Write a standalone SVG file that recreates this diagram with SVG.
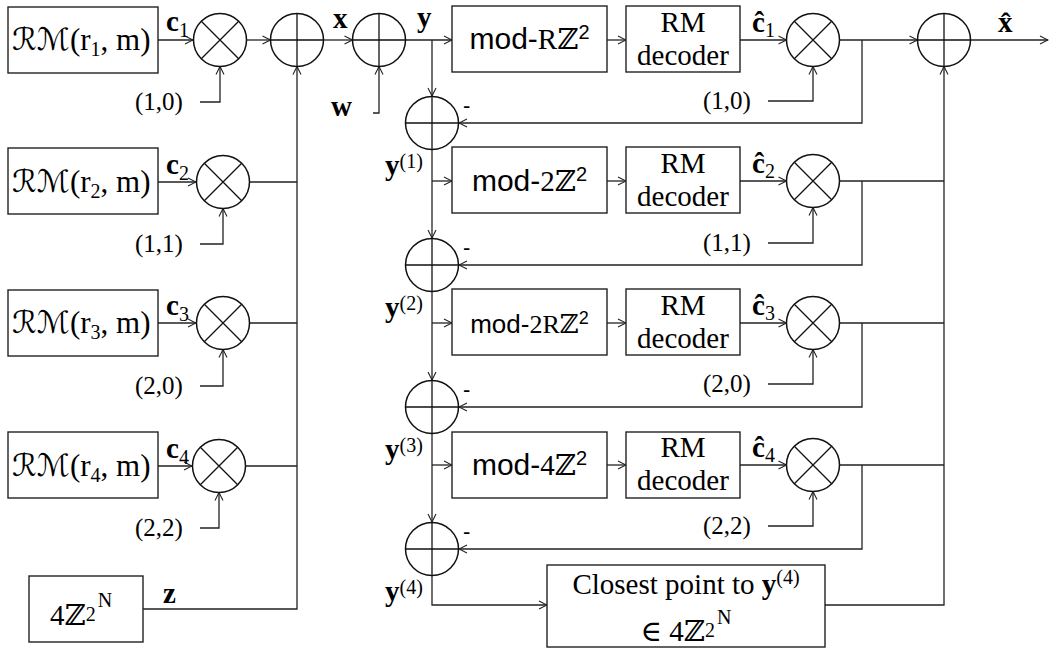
<svg xmlns="http://www.w3.org/2000/svg" width="1051" height="651" viewBox="0 0 1051 651">
<defs>
<marker id="a" markerWidth="10" markerHeight="10" refX="9" refY="5" orient="auto" markerUnits="userSpaceOnUse"><path d="M1,1 L9,5 L1,9" fill="none" stroke="#222" stroke-width="1.1"/></marker>
<g id="mul"><circle r="26.5" fill="#fff" stroke="#111" stroke-width="1.5"/><path d="M-18.7,-18.7 L18.7,18.7 M18.7,-18.7 L-18.7,18.7" stroke="#111" stroke-width="1.3"/></g>
<g id="add"><circle r="26.5" fill="none" stroke="#111" stroke-width="1.5"/><path d="M-26.5,0 H26.5 M0,-26.5 V26.5" stroke="#111" stroke-width="1.3"/></g>
</defs>
<style>
.box{fill:#fff;stroke:#222;stroke-width:1.4}
.c{fill:none;stroke:#222;stroke-width:1.3}
.ar{marker-end:url(#a)}
text{font-family:"Liberation Serif","DejaVu Serif",serif;fill:#000}
.sf{font-family:"Liberation Serif","DejaVu Serif",serif}
.t{font-size:29px}
.lab{font-size:25px}
.b{font-weight:bold}
.sub{font-size:20px}
.ss{font-family:"Liberation Sans","DejaVu Sans",sans-serif}
.scr{font-family:"DejaVu Sans",sans-serif;font-style:italic}
</style>

<g id="connectors">
<path class="c ar" d="M158,40 H193"/>
<path class="c ar" d="M158,182 H196"/>
<path class="c ar" d="M158,323 H196"/>
<path class="c ar" d="M158,466 H192"/>
<path class="c ar" d="M200,102 H220 V66.5"/>
<path class="c ar" d="M200,244 H223 V208.5"/>
<path class="c ar" d="M200,386 H223 V349.5"/>
<path class="c ar" d="M200,528 H219 V492.5"/>
<path class="c ar" d="M246.5,40 H270.5"/>
<path class="c" d="M249.5,182 H297 M249.5,323 H297 M245.5,466 H297"/>
<path class="c ar" d="M143,609 H297 V66.5"/>
<path class="c ar" d="M323.5,40 H352.5"/>
<path class="c ar" d="M373,113 H379 V66.5"/>
<path class="c ar" d="M405.5,40 H452"/>
<path class="c ar" d="M432,40 V96"/>
<path class="c ar" d="M432,150 V238"/>
<path class="c ar" d="M432,292 V380"/>
<path class="c ar" d="M432,434 V522"/>
<path class="c ar" d="M432,576 V605 H547"/>
<path class="c ar" d="M432,181 H452"/>
<path class="c ar" d="M432,323 H452"/>
<path class="c ar" d="M432,465 H452"/>
<path class="c ar" d="M607,40 H626"/>
<path class="c ar" d="M607,181 H626"/>
<path class="c ar" d="M607,323 H626"/>
<path class="c ar" d="M607,465 H626"/>
<path class="c ar" d="M740,40 H786.5"/>
<path class="c ar" d="M740,181 H786.5"/>
<path class="c ar" d="M740,323 H786.5"/>
<path class="c ar" d="M740,465 H786.5"/>
<path class="c ar" d="M768,101 H813 V66.5"/>
<path class="c ar" d="M768,243 H813 V207.5"/>
<path class="c ar" d="M768,384 H813 V349.5"/>
<path class="c ar" d="M768,526 H813 V491.5"/>
<path class="c ar" d="M839.5,40 H917.5"/>
<path class="c" d="M839.5,181 H944 M839.5,323 H944 M839.5,465 H944"/>
<path class="c ar" d="M862,40 V123 H459"/>
<path class="c ar" d="M862,181 V265 H459"/>
<path class="c ar" d="M862,323 V407 H459"/>
<path class="c ar" d="M862,465 V549 H459"/>
<path class="c ar" d="M825,605 H944 V66.5"/>
<path class="c ar" d="M970.5,40 H1048"/>
</g>

<g id="rm1"><rect class="box" x="8" y="7" width="150" height="66"/>
<text class="sf" font-size="31" x="12" y="50"><tspan class="scr">ℛℳ</tspan>(r<tspan class="sub" dy="6">1</tspan><tspan dy="-6">, m)</tspan></text></g>
<g id="rm2"><rect class="box" x="8" y="148" width="150" height="66"/>
<text class="sf" font-size="31" x="12" y="192"><tspan class="scr">ℛℳ</tspan>(r<tspan class="sub" dy="6">2</tspan><tspan dy="-6">, m)</tspan></text></g>
<g id="rm3"><rect class="box" x="8" y="290" width="150" height="66"/>
<text class="sf" font-size="31" x="12" y="333"><tspan class="scr">ℛℳ</tspan>(r<tspan class="sub" dy="6">3</tspan><tspan dy="-6">, m)</tspan></text></g>
<g id="rm4"><rect class="box" x="8" y="432" width="150" height="66"/>
<text class="sf" font-size="31" x="12" y="476"><tspan class="scr">ℛℳ</tspan>(r<tspan class="sub" dy="6">4</tspan><tspan dy="-6">, m)</tspan></text></g>
<g id="lattice"><rect class="box" x="29" y="576" width="114" height="66"/>
<text class="t sf" x="50" y="625">4ℤ<tspan class="sub" dy="-4">2</tspan><tspan class="sub" dy="-14" dx="2">N</tspan></text></g>

<g id="m1"><use href="#mul" x="220" y="40"/></g>
<g id="m2"><use href="#mul" x="223" y="182"/></g>
<g id="m3"><use href="#mul" x="223" y="323"/></g>
<g id="m4"><use href="#mul" x="219" y="466"/></g>
<g id="s1"><use href="#add" x="297" y="40"/></g>
<g id="s2"><use href="#add" x="379" y="40"/></g>
<g id="d1"><use href="#add" x="432" y="123"/></g>
<g id="d2"><use href="#add" x="432" y="265"/></g>
<g id="d3"><use href="#add" x="432" y="407"/></g>
<g id="d4"><use href="#add" x="432" y="549"/></g>
<g id="r1"><use href="#mul" x="813" y="40"/></g>
<g id="r2"><use href="#mul" x="813" y="181"/></g>
<g id="r3"><use href="#mul" x="813" y="323"/></g>
<g id="r4"><use href="#mul" x="813" y="465"/></g>
<g id="fsum"><use href="#add" x="944" y="40"/></g>

<g id="mod1"><rect class="box" x="452" y="6" width="155" height="66"/>
<text class="t sf" x="529.5" y="49" text-anchor="middle"><tspan class="ss" font-size="30">mod-</tspan>Rℤ<tspan class="ss sub" dy="-10">2</tspan></text></g>
<g id="mod2"><rect class="box" x="452" y="147" width="155" height="66"/>
<text class="t sf" x="529.5" y="191" text-anchor="middle"><tspan class="ss" font-size="30">mod-</tspan>2ℤ<tspan class="ss sub" dy="-10">2</tspan></text></g>
<g id="mod3"><rect class="box" x="452" y="289" width="155" height="66"/>
<text class="sf" x="529.5" y="333" text-anchor="middle" font-size="26"><tspan class="ss">mod-</tspan>2Rℤ<tspan class="ss" font-size="18" dy="-9">2</tspan></text></g>
<g id="mod4"><rect class="box" x="452" y="432" width="155" height="66"/>
<text class="t sf" x="529.5" y="475" text-anchor="middle"><tspan class="ss" font-size="30">mod-</tspan>4ℤ<tspan class="ss sub" dy="-10">2</tspan></text></g>

<g id="dec1"><rect class="box" x="626" y="6" width="114" height="66"/>
<text class="t sf" x="683" y="32" text-anchor="middle">RM</text><text class="t sf" x="683" y="65" text-anchor="middle">decoder</text></g>
<g id="dec2"><rect class="box" x="626" y="147" width="114" height="66"/>
<text class="t sf" x="683" y="173" text-anchor="middle">RM</text><text class="t sf" x="683" y="206" text-anchor="middle">decoder</text></g>
<g id="dec3"><rect class="box" x="626" y="289" width="114" height="66"/>
<text class="t sf" x="683" y="315" text-anchor="middle">RM</text><text class="t sf" x="683" y="348" text-anchor="middle">decoder</text></g>
<g id="dec4"><rect class="box" x="626" y="432" width="114" height="66"/>
<text class="t sf" x="683" y="457" text-anchor="middle">RM</text><text class="t sf" x="683" y="490" text-anchor="middle">decoder</text></g>

<g id="closest"><rect class="box" x="547" y="565" width="278" height="82"/>
<text class="t sf" x="686" y="594" text-anchor="middle">Closest point to <tspan class="b">y</tspan><tspan class="sub" dy="-10">(4)</tspan></text>
<text class="t sf" x="686" y="641" text-anchor="middle">∈ 4ℤ<tspan class="sub" dy="-4">2</tspan><tspan class="sub" dy="-13" dx="2">N</tspan></text></g>

<g id="labels">
<text class="t b" x="166" y="31">c<tspan class="sub" font-weight="normal" dy="6">1</tspan></text>
<text class="t b" x="166" y="174">c<tspan class="sub" font-weight="normal" dy="6">2</tspan></text>
<text class="t b" x="166" y="315">c<tspan class="sub" font-weight="normal" dy="6">3</tspan></text>
<text class="t b" x="166" y="458">c<tspan class="sub" font-weight="normal" dy="6">4</tspan></text>
<text class="t b" x="752" y="32">ĉ<tspan class="sub" font-weight="normal" dy="5">1</tspan></text>
<text class="t b" x="752" y="173">ĉ<tspan class="sub" font-weight="normal" dy="5">2</tspan></text>
<text class="t b" x="752" y="315">ĉ<tspan class="sub" font-weight="normal" dy="5">3</tspan></text>
<text class="t b" x="752" y="457">ĉ<tspan class="sub" font-weight="normal" dy="5">4</tspan></text>
<text class="lab" x="135" y="110">(1,0)</text>
<text class="lab" x="135" y="252">(1,1)</text>
<text class="lab" x="135" y="394">(2,0)</text>
<text class="lab" x="135" y="536">(2,2)</text>
<text class="lab" x="703" y="109">(1,0)</text>
<text class="lab" x="703" y="251">(1,1)</text>
<text class="lab" x="703" y="392">(2,0)</text>
<text class="lab" x="703" y="534">(2,2)</text>
<text class="t b" x="333" y="28">x</text>
<text class="t b" x="417" y="27">y</text>
<text class="t b" x="331" y="116">w</text>
<text class="t b" x="163" y="603">z</text>
<text class="t b" x="998" y="32">x̂</text>
<text class="ss" font-size="22" x="463" y="113">-</text>
<text class="ss" font-size="22" x="463" y="255">-</text>
<text class="ss" font-size="22" x="463" y="397">-</text>
<text class="ss" font-size="22" x="463" y="539">-</text>
<text class="t b" x="385" y="175">y<tspan class="sub" font-weight="normal" dy="-7">(1)</tspan></text>
<text class="t b" x="385" y="317">y<tspan class="sub" font-weight="normal" dy="-7">(2)</tspan></text>
<text class="t b" x="385" y="459">y<tspan class="sub" font-weight="normal" dy="-7">(3)</tspan></text>
<text class="t b" x="385" y="601">y<tspan class="sub" font-weight="normal" dy="-7">(4)</tspan></text>
</g>
</svg>
